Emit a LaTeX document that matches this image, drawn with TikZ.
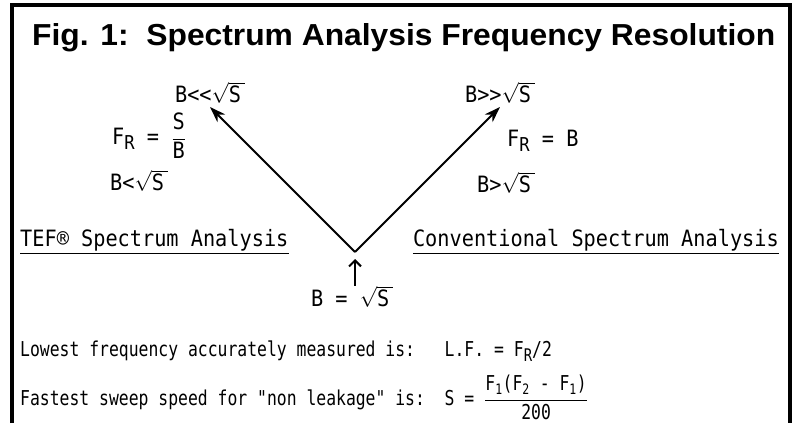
\documentclass[tikz,border=0pt]{standalone}
\usepackage{fontspec}
\setmainfont{Liberation Sans}
\newfontfamily\tw[FakeStretch=0.9]{DejaVu Sans Mono}
\newfontfamily\twn[FakeStretch=0.8]{DejaVu Sans Mono}
\usetikzlibrary{arrows.meta,positioning}
\newcommand{\rt}[1]{$\sqrt{\mbox{#1\,}}$}
\newcommand{\FR}{F\raisebox{-5pt}{\scalebox{0.85}{R}}}

\begin{document}
\begin{tikzpicture}[x=1pt, y=-1pt,
    lab/.style={inner sep=0pt, font=\tw\fontsize{22.5}{26}\selectfont},
    note/.style={inner sep=0pt, font=\twn\fontsize{20.5}{24}\selectfont},
    arr/.style={-{Stealth[length=16pt,width=11pt]}, line width=2pt},
    upa/.style={-{Straight Barb[length=6pt,width=12pt]}, line width=2pt},
    frame/.style={line width=3.5pt}
  ]
    \useasboundingbox (0,0) rectangle (795,423);
    \draw[frame] (12,423) -- (12,5) -- (790,5) -- (790,423);
    \node[anchor=base west, inner sep=0pt] (title) at (32,45)
      {\resizebox{743pt}{22pt}{\bfseries Fig. 1:\ \ Spectrum Analysis Frequency Resolution}};
    % the V
    \coordinate (v) at (355,252);
    \coordinate (ltip) at (210,107);
    \coordinate (rtip) at (500,107);
    \coordinate (aim) at (355,259);
    \node[lab, above=3pt of ltip] (ll) {B<<\rt{S}};
    \node[lab, above=3pt of rtip] (rr) {B>>\rt{S}};
    \node[lab, anchor=base west] (frl) at (112,144) {\FR\ = $\displaystyle\frac{\mbox{S}}{\mbox{B}}$};
    \node[lab, anchor=base west] (ltl) at (110,190) {B<\rt{S}};
    \node[lab, anchor=base west] (frr) at (507,146) {\FR\ = B};
    \node[lab, anchor=base west] (gtr) at (477,192) {B>\rt{S}};
    \node[lab, anchor=base west] (tef) at (20,246) {TEF® Spectrum Analysis};
    \node[lab, anchor=base east] (conv) at (779,246) {Conventional Spectrum Analysis};
    \draw[line width=1pt] ([yshift=-7pt]tef.base west) -- ([yshift=-7pt]tef.base east);
    \draw[line width=1pt] ([yshift=-7pt]conv.base west) -- ([yshift=-7pt]conv.base east);
    \node[lab, anchor=base] (bs) at (352,306) {B = \rt{S}};
    \draw[arr] (v) -- (ltip);
    \draw[arr] (v) -- (rtip);
    \draw[upa] (bs.north -| aim) -- (aim);
    % bottom lines
    \node[note, anchor=base west] (low) at (20,356)
      {Lowest frequency accurately measured is:\ \ \ L.F. = \FR/2};
    \node[note, anchor=base west] (fast) at (20,405)
      {Fastest sweep speed for "non leakage" is:\ \ S = $\displaystyle\frac{\mbox{F\textsubscript{1}(F\textsubscript{2}\ -\ F\textsubscript{1})}}{\mbox{200}}$};
\end{tikzpicture}
\end{document}
